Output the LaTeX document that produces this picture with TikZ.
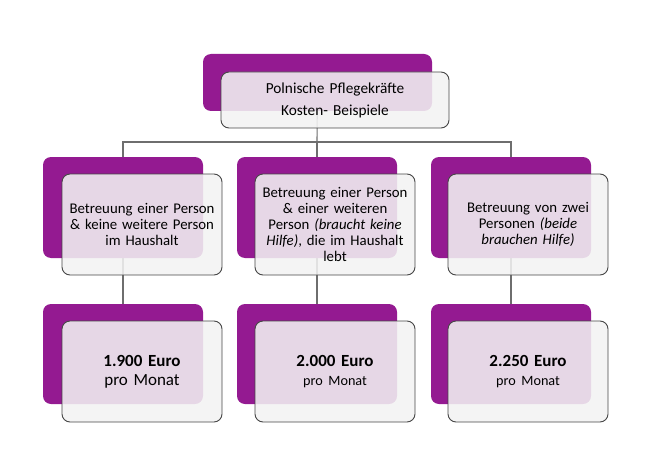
\documentclass[tikz,border=0pt]{standalone}
\usepackage{fontspec}
\setmainfont{Carlito}[WordSpace=0.65]
\usetikzlibrary{backgrounds}
\definecolor{boxpurple}{RGB}{148,26,145}
\definecolor{frontfill}{RGB}{242,242,242}
\definecolor{frontdraw}{RGB}{70,70,70}
\definecolor{conngray}{RGB}{110,110,110}
\tikzset{
  back/.style={fill=boxpurple, draw=none, rounded corners=8pt, minimum width=160pt, minimum height=101pt, inner sep=0pt},
  front/.style={fill=frontfill, fill opacity=0.88, text opacity=1, draw=frontdraw, line width=0.9pt, rounded corners=8pt, minimum width=160pt, minimum height=101pt, inner sep=0pt, align=center, text width=158pt, font=\fontsize{14.8}{15.8}\selectfont},
  conn/.style={draw=conngray, line width=1.1pt},
}
\begin{document}
\begin{tikzpicture}[x=1pt,y=-1pt]
\useasboundingbox (0,0) rectangle (650,476);
% back boxes
\node[back, minimum width=229pt, minimum height=57pt] (tb) at (317.5,82.5) {};
\node[back] (b1) at (123,207.5) {};
\node[back] (b2) at (317,207.5) {};
\node[back] (b3) at (511,207.5) {};
\node[back, minimum height=100pt] (c1) at (123,354) {};
\node[back, minimum height=100pt] (c2) at (317,354) {};
\node[back, minimum height=100pt] (c3) at (511,354) {};
% connectors behind
\begin{scope}[on background layer]
\coordinate (h) at (317,142);
\draw[conn] (tb.center) -- (h);
\draw[conn] (b1.center) |- (h) -| (b3.center);
\draw[conn] (b2.center) -- (h);
\draw[conn] (b1.center) -- (c1.center);
\draw[conn] (b2.center) -- (c2.center);
\draw[conn] (b3.center) -- (c3.center);
\end{scope}
% front boxes
\node[front, minimum width=228pt, minimum height=56pt, text width=224pt, font=\fontsize{15.3}{22}\selectfont] (tf) at (335,100) {Polnische Pflegekräfte\\Kosten- Beispiele};
\node[front] (f1) at (142,224.5) {Betreuung einer Person\\\& keine weitere Person\\im Haushalt};
\node[front] (f2) at (335,224.5) {Betreuung einer Person\\\& einer weiteren\\Person \textit{(braucht keine}\\\textit{Hilfe)}, die im Haushalt\\lebt};
\node[front] (f3) at (528,224.5) {Betreuung von zwei\\Personen \textit{(beide}\\\textit{brauchen Hilfe)}};
\node[front, font=\fontsize{17}{19}\selectfont] (g1) at (142,371.5) {\textbf{1.900 Euro}\\pro Monat};
\node[front, font=\fontsize{17}{19}\selectfont] (g2) at (335,371.5) {\textbf{2.000 Euro}\\{\fontsize{14.2}{19}\selectfont pro Monat}};
\node[front, font=\fontsize{17}{19}\selectfont] (g3) at (528,371.5) {\textbf{2.250 Euro}\\{\fontsize{14.2}{19}\selectfont pro Monat}};
\end{tikzpicture}
\end{document}
